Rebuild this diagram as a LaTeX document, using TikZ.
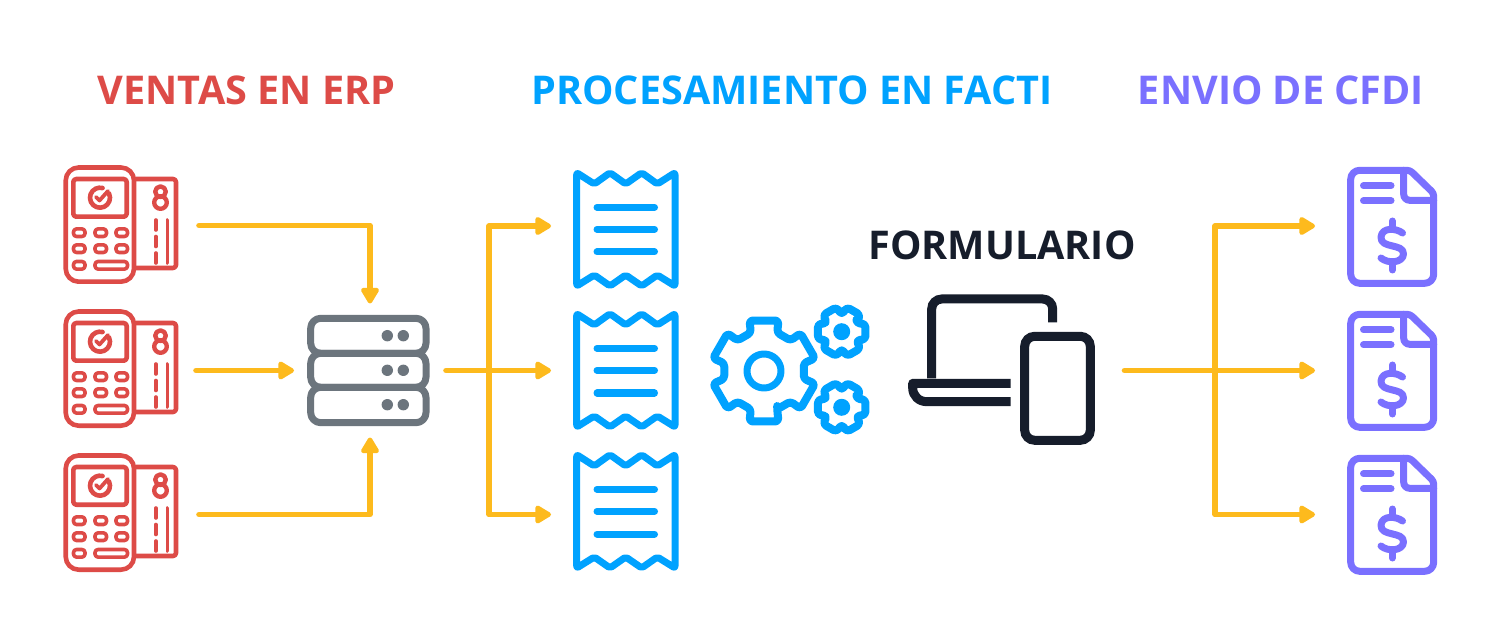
\documentclass[tikz,border=0pt]{standalone}
\usepackage{fontspec}
\setmainfont{Open Sans}
\usetikzlibrary{arrows.meta,calc}
\definecolor{cred}{HTML}{DD4B47}
\definecolor{cgray}{HTML}{6C757D}
\definecolor{cblue}{HTML}{00A2FF}
\definecolor{cnavy}{HTML}{161D2B}
\definecolor{cpurple}{HTML}{7A70FF}
\definecolor{cyell}{HTML}{FDBA1D}
\tikzset{
  title/.style={font=\fontsize{19.8pt}{24pt}\selectfont\bfseries,inner sep=0pt,anchor=center},
  holder/.style={inner sep=0pt,outer sep=0pt,minimum height=#1},
  holder/.default=120pt,
  flow/.style={draw=cyell,line width=2.8pt,line cap=round,line join=round,-{Triangle[length=9pt,width=10pt,round]}},
  ln/.style={line width=#1,line cap=round,line join=round},
}
\newcommand{\posicon}[1]{\begin{scope}[shift={(0,#1)},draw=cred,ln=2.3pt]
  \draw[rounded corners=6.5pt] (65.7,167.5) rectangle (134,281.7);
  \draw[rounded corners=1.5pt] (73.3,179) rectangle (126.7,216.7);
  \draw (100,197.7) ++(-25:10) arc[start angle=-25,end angle=285,radius=10];
  \draw[line width=1.9pt] (96,197) -- (99.5,200.5) -- (108,191);
  \begin{scope}[line width=1.8pt]
  \foreach \kx in {73.5,95,116}{\foreach \ky in {232.7,248.7}{
    \draw[rounded corners=1.5pt] (\kx,\ky-3.8) rectangle (\kx+11.5,\ky+3.8);}}
  \draw[rounded corners=1.5pt] (73.5,261.5) rectangle (85,269.1);
  \draw[rounded corners=1.5pt] (95,261.5) rectangle (127.5,269.1);
  \draw[line width=2.2pt] (160.5,191.7) circle[radius=5.3];
  \draw[line width=2.2pt] (160.5,202.5) circle[radius=6.3];
  \draw (155.7,220) -- (155.7,230) (155.7,236.5) -- (155.7,246.5) (155.7,253) -- (155.7,263);
  \draw (167.3,220) -- (167.3,263);
  \end{scope}
  \draw[rounded corners=1.5pt] (136,179) -- (176,179) -- (176,268) -- (136,268);
\end{scope}}
\newcommand{\receipt}[1]{\begin{scope}[shift={(0,#1)},draw=cblue,ln=3.5pt]
  \draw[rounded corners=1pt] (576.7,172.7) -- (594.3,184) -- (610,172.7) -- (625.7,184) -- (641.7,172.7) -- (657.3,184) -- (675,172.7)
    -- (675,286) -- (657.3,275) -- (641.7,286) -- (625.7,275) -- (610,286) -- (594.3,275) -- (576.7,286) -- cycle;
  \draw (597,207.3) -- (654.5,207.3) (597,229.3) -- (654.5,229.3) (597,252) -- (654.5,252);
\end{scope}}
\newcommand{\docicon}[1]{\begin{scope}[shift={(0,#1)},draw=cpurple,ln=3.5pt]
  \draw[rounded corners=4.5pt] (1350.7,170.3) [rounded corners=1.5pt] -- (1410,170.3) -- (1433.7,193.3) [rounded corners=4.5pt] -- (1433.7,283.3) -- (1350.7,283.3) -- cycle;
  \draw[rounded corners=3pt] (1403.7,170.3) -- (1403.7,200.3) -- (1433.7,200.3);
  \draw (1363.5,185.7) -- (1391,185.7) (1363.5,200.7) -- (1391,200.7);
  \draw (1392.3,221) -- (1392.3,229) (1392.3,262) -- (1392.3,270);
  \draw (1402.5,233) .. controls (1396,228) and (1382,227) .. (1381,237) .. controls (1380,249) and (1404,243) .. (1403.5,254) .. controls (1403,263) and (1388,264) .. (1381,258);
\end{scope}}
\newcommand{\smallgear}[2]{\begin{scope}[shift={(#1,#2)},draw=cblue,ln=4pt]
  \draw[rounded corners=1.8pt] (-30:17) \foreach \a in {0,60,120,180,240,300}{ -- (\a-18:25) -- (\a+18:25) -- (\a+30:17)} -- cycle;
  \fill[cblue] (0,0) circle[radius=8.5];
\end{scope}}
\begin{document}
\begin{tikzpicture}[x=0.5pt,y=-0.5pt]
\useasboundingbox (0,0) rectangle (1500,636);
\fill[white] (0,0) rectangle (1500,636);
% titles
\node[title,text=cred] (t1) at (246.5,90) {VENTAS EN ERP};
\node[title,text=cblue] (t2) at (792,90) {PROCESAMIENTO EN FACTI};
\node[title,text=cpurple] (t3) at (1281,90) {ENVIO DE CFDI};
\node[title,text=cnavy] (t4) at (1002,245.5) {FORMULARIO};
% icon drawings
\posicon{0}\posicon{144}\posicon{288}
\receipt{0}\receipt{141}\receipt{282}
\docicon{0}\docicon{144}\docicon{288}
% server
\begin{scope}[draw=cgray,ln=3.5pt]
  \draw[rounded corners=5pt] (310.7,318.3) rectangle (426,353.3);
  \draw[rounded corners=5pt] (310.7,353.3) rectangle (426,387.3);
  \draw[rounded corners=5pt] (310.7,387.3) rectangle (426,422.7);
  \foreach \sy in {335.7,370.3,404.7}{
    \fill[cgray] (387.3,\sy) circle[radius=5.7];
    \fill[cgray] (403.3,\sy) circle[radius=5.7];}
\end{scope}
% gears
\begin{scope}[shift={(764,371)},draw=cblue,ln=4pt]
  \draw[rounded corners=1.6pt] (71:40.5) \foreach \a in {90,150,210,270,330,30}{ -- (\a-19:40.5) -- (\a-16:52.5) -- (\a+16:52.5) -- (\a+19:40.5)} -- cycle;
  \draw[line width=3.5pt] (0,0) circle[radius=17];
\end{scope}
\smallgear{841.7}{331.7}
\smallgear{841.7}{407.3}
% laptop and tablet
\begin{scope}[draw=cnavy,line width=4.5pt]
  \draw[rounded corners=5pt] (931.7,378.3) -- (931.7,299) -- (1052.7,299) -- (1052.7,322.3);
  \draw[line join=round] (1010.7,383.3) -- (912.7,383.3) -- (912.7,388) .. controls (912.7,396) and (919,401.7) .. (927,401.7) -- (1010.7,401.7);
  \draw[rounded corners=5pt] (1024.7,336.3) rectangle (1090.3,440.3);
\end{scope}
% invisible named holders: anchors are the arrow ends
\node[holder,minimum width=68pt] (pos1) at (131,225.5) {};
\node[holder,minimum width=66.5pt] (pos2) at (129.5,370.5) {};
\node[holder,minimum width=68pt] (pos3) at (131,514.5) {};
\node[holder=67pt,minimum width=76pt] (srv) at (370,370.5) {};
\node[holder,minimum width=74pt] (rc1) at (625,226) {};
\node[holder,minimum width=74pt] (rc2) at (625,370.5) {};
\node[holder,minimum width=74pt] (rc3) at (625,514.5) {};
\node[holder,minimum width=124.5pt] (dev) at (1000,370.5) {};
\node[holder,minimum width=77pt] (dc1) at (1392,226) {};
\node[holder,minimum width=77pt] (dc2) at (1392,370.5) {};
\node[holder,minimum width=77pt] (dc3) at (1392,514.5) {};
\coordinate (j1) at (489,370.5);
\coordinate (j2) at (1215,370.5);
% connectors
\draw[flow] (pos1.east) -| (srv.north);
\draw[flow] (pos2.east) -- (srv.west);
\draw[flow] (pos3.east) -| (srv.south);
\draw[flow] (srv.east) -- (rc2.west);
\draw[flow] (j1) |- (rc1.west);
\draw[flow] (j1) |- (rc3.west);
\draw[flow] (dev.east) -- (dc2.west);
\draw[flow] (j2) |- (dc1.west);
\draw[flow] (j2) |- (dc3.west);
\end{tikzpicture}
\end{document}
